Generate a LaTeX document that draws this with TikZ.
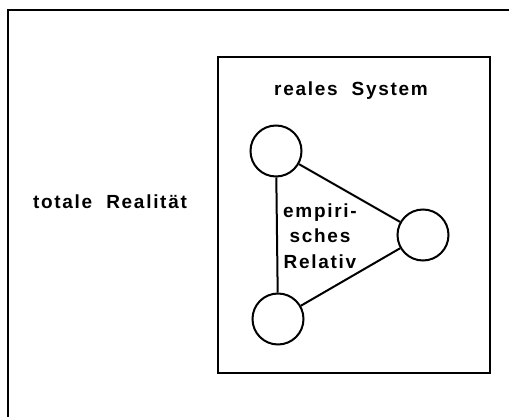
\documentclass[tikz,border=0pt]{standalone}
\usepackage{fontspec}
\setmainfont{Liberation Sans}[LetterSpace=9,WordSpace=2]
\begin{document}
\begin{tikzpicture}[x=1pt,y=-1pt,
  frame/.style={draw,line width=2.2pt},
  elem/.style={draw,circle,line width=2pt,minimum size=51pt,inner sep=0pt},
  link/.style={line width=2pt},
  lbl/.style={font=\fontsize{19}{25.5}\selectfont\bfseries,inner sep=0pt,align=center}]
\clip (0,0) rectangle (509,417);
\fill[white] (0,0) rectangle (509,417);
\draw[frame] (8,10) rectangle (530,440);
\draw[frame] (218,57) rectangle (490,373);
\node[lbl] (tot) at (110,202) {totale Realität};
\node[lbl] (sys) at (351,91) {reales System};
\node[elem] (a) at (276,151) {};
\node[elem] (b) at (423,235) {};
\node[elem] (c) at (278,319) {};
\draw[link] (a) -- (b);
\draw[link] (b) -- (c);
\draw[link] (a) -- (c);
\node[lbl] (rel) at (320,236) {empiri-\\sches\\Relativ};
\end{tikzpicture}
\end{document}
